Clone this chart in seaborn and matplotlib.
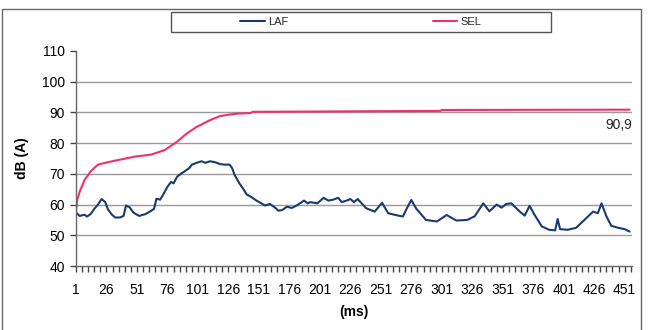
import matplotlib
matplotlib.use("Agg")
import matplotlib.pyplot as plt
from matplotlib.patches import Rectangle
from matplotlib.ticker import FixedLocator
import seaborn as sns
import pandas as pd

# ---- data ----
laf_ms = [1, 4, 8, 10, 13, 16, 19, 22, 25, 27, 30, 33, 37, 40, 42, 45, 48, 50, 53, 56,
          58, 62, 65, 67, 70, 73, 76, 79, 81, 84, 87, 90, 94, 96, 100, 104, 107, 111, 115, 119,
          123, 127, 129, 131, 135, 138, 141, 145, 149, 153, 156, 160, 164, 167, 170, 174, 178, 182, 188, 191,
          193, 199, 204, 208, 212, 216, 219, 223, 226, 229, 232, 239, 246, 252, 257, 262, 269, 272, 276, 280,
          288, 297, 305, 313, 322, 328, 335, 340, 346, 350, 354, 358, 365, 369, 373, 377, 383, 389, 394, 396,
          398, 404, 411, 418, 425, 429, 432, 436, 440, 445, 451, 455]
laf_db = [57.4, 56.3, 56.7, 56.1, 56.9, 58.6, 60.0, 61.8, 60.8, 58.6, 56.9, 55.8, 55.8, 56.3, 59.7, 59.1, 57.4, 56.9, 56.3, 56.7,
          56.9, 57.8, 58.6, 61.9, 61.6, 63.6, 65.8, 67.4, 66.9, 69.1, 70.0, 70.8, 71.9, 73.0, 73.6, 74.1, 73.6, 74.1, 73.8, 73.2,
          73.0, 73.0, 71.9, 69.7, 66.9, 65.2, 63.3, 62.4, 61.3, 60.4, 59.7, 60.2, 59.1, 58.0, 58.2, 59.3, 58.9, 59.7, 61.3, 60.4,
          60.8, 60.4, 62.2, 61.3, 61.6, 62.2, 60.8, 61.3, 61.8, 60.8, 61.8, 58.8, 57.7, 60.6, 57.2, 56.7, 56.1, 58.5, 61.5, 58.7,
          55.0, 54.5, 56.6, 54.8, 55.0, 56.2, 60.4, 57.8, 60.0, 59.0, 60.2, 60.4, 57.7, 56.4, 59.6, 56.7, 52.9, 51.8, 51.6, 55.3,
          52.0, 51.8, 52.4, 55.0, 57.7, 57.2, 60.4, 56.2, 53.1, 52.5, 52.0, 51.2]

sel_ms = [1, 2, 4, 8, 13, 19, 27, 38, 49, 63, 74, 84, 92, 100, 111, 119, 125, 133, 144, 146,
          200, 300, 301, 455]
sel_db = [57.8, 61.5, 64.2, 68.0, 70.8, 73.0, 73.8, 74.7, 75.6, 76.3, 77.8, 80.5, 83.2, 85.3, 87.5, 88.8, 89.2, 89.6, 89.8, 90.2,
          90.3, 90.5, 90.8, 90.9]

x_ticks = list(range(1, 452, 25))
x_minor = list(range(1, 457, 5))
y_ticks = [40, 50, 60, 70, 80, 90, 100, 110]
final_label = "90,9"

laf_df = pd.DataFrame({"ms": laf_ms, "dB": laf_db})
sel_df = pd.DataFrame({"ms": sel_ms, "dB": sel_db})

sns.set_theme(style="ticks", rc={"xtick.bottom": True, "ytick.left": True})
plt.rcParams["font.family"] = ["Liberation Sans", "DejaVu Sans"]

W, H = 661, 330
fig = plt.figure(figsize=(W / 100, H / 100), dpi=100)
ax = fig.add_axes([76 / W, 1 - 266 / H, (632 - 76) / W, (266 - 51) / H])

laf_col = "#1a3a72"
sel_col = "#f0306e"
sns.lineplot(data=laf_df, x="ms", y="dB", ax=ax, color=laf_col, lw=1.5, label="LAF")
sns.lineplot(data=sel_df, x="ms", y="dB", ax=ax, color=sel_col, lw=1.5, label="SEL")

ax.set_xlim(1, 457)
ax.set_ylim(40, 110)
ax.set_xticks(x_ticks)
ax.set_xticks(x_minor, minor=True)
ax.set_yticks(y_ticks)
ax.set_yticks([], minor=True)
ax.grid(False)
for y in y_ticks[1:-1]:
    ax.axhline(y, color="#9a9a9a", lw=1.0, zorder=0)

for s in ["top", "right"]:
    ax.spines[s].set_visible(False)
for s in ["left", "bottom"]:
    ax.spines[s].set_color("#666666")
    ax.spines[s].set_linewidth(1.0)

ax.tick_params(axis="x", which="both", direction="out", bottom=True, length=4, width=1.0,
               color="#444444", labelcolor="black", labelsize=10, pad=8)
ax.tick_params(axis="y", which="major", direction="out", left=True, length=4, width=1.0,
               color="#444444", labelcolor="black", labelsize=10, pad=4)

ax.set_xlabel("(ms)", fontsize=10, fontweight="bold", labelpad=6, color="black")
ax.set_ylabel("dB (A)", fontsize=10, fontweight="bold", labelpad=9, color="black")

ax.text(457, 85.8, final_label, ha="right", va="center", fontsize=10)

# legend
handles, labels = ax.get_legend_handles_labels()
ax.get_legend().remove()
fig.add_artist(Rectangle((171 / W, 1 - 32 / H), 380 / W, 20 / H, transform=fig.transFigure,
                         facecolor="white", edgecolor="#555555", lw=1.0))
fig.legend(handles, labels, ncol=2, frameon=False, loc="center",
           bbox_to_anchor=(361 / W, 1 - 22 / H), fontsize=8,
           handlelength=2.2, handletextpad=0.3, columnspacing=13)

# outer chart frame
fig.add_artist(Rectangle((2 / W, -0.02), 639 / W, 1 - 9 / H + 0.02, transform=fig.transFigure,
                         facecolor="none", edgecolor="#666666", lw=1.0))

fig.savefig("out.png", dpi=100)
